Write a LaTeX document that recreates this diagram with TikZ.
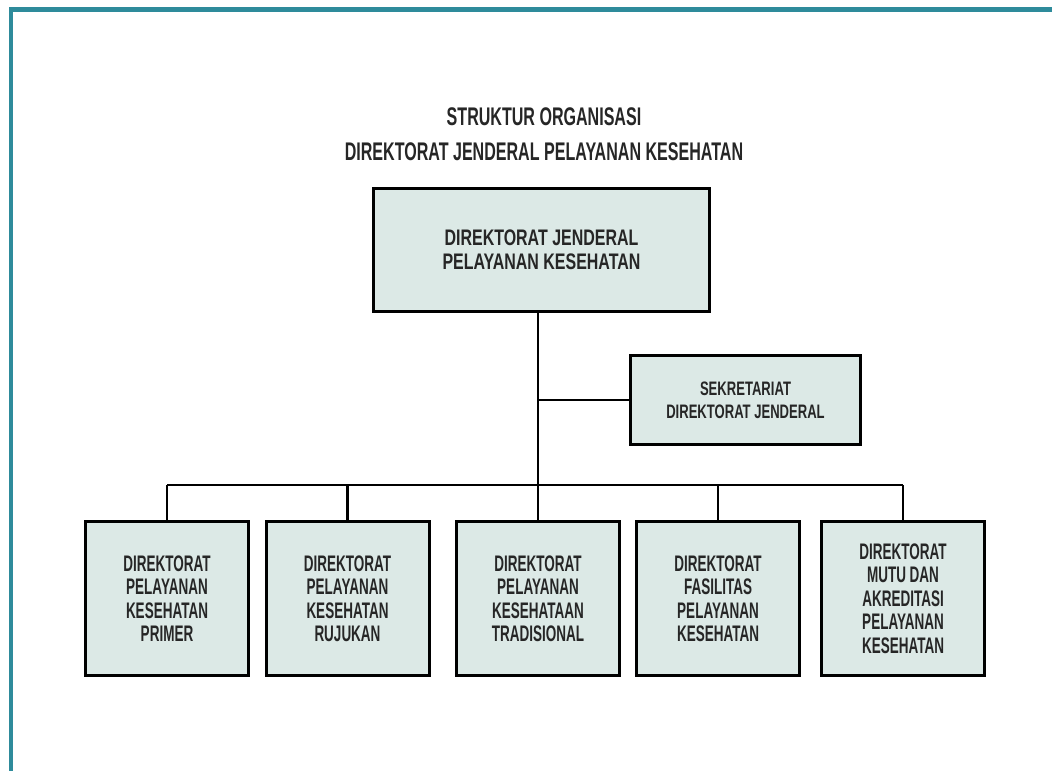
\documentclass[tikz,border=0pt]{standalone}
\usepackage{fontspec}
\usepackage{xcolor}
\usepackage{tikz}

\newfontfamily\titlefont{Liberation Sans}[FakeStretch=0.63]
\newfontfamily\headfont{Liberation Sans}[FakeStretch=0.71]
\newfontfamily\sekrefont{Liberation Sans}[FakeStretch=0.67]
\newfontfamily\unitfont{Liberation Sans}[FakeStretch=0.6]

\definecolor{frameteal}{HTML}{2E8B9B}
\definecolor{boxfill}{HTML}{DCE9E6}
\definecolor{inkgray}{HTML}{262626}

\begin{document}
\begin{tikzpicture}[x=1pt,y=-1pt,
  orgbox/.style={draw=black, line width=3pt, fill=boxfill, text=inkgray, align=center, inner sep=0pt},
  unitbox/.style={orgbox, minimum width=163pt, minimum height=154pt, font=\unitfont\bfseries\fontsize{22.5}{23.5}\selectfont},
  link/.style={line width=2.6pt, black}]
\useasboundingbox (0,0) rectangle (1052,771);

% Frame
\fill[white] (0,0) rectangle (1052,771);
\draw[frameteal, line width=5pt] (9,9.5) -- (1052,9.5);
\draw[frameteal, line width=3.5pt] (11,7) -- (11,771);

% Title
\node[text=inkgray, align=center, font=\titlefont\bfseries\fontsize{25.5}{35}\selectfont] (title) at (544,134)
  {STRUKTUR ORGANISASI\\DIREKTORAT JENDERAL PELAYANAN KESEHATAN};

% Top level
\node[orgbox, minimum width=336pt, minimum height=123pt, font=\headfont\bfseries\fontsize{22.5}{24}\selectfont] (dirjen) at (541.5,250)
  {DIREKTORAT JENDERAL\\PELAYANAN KESEHATAN};
\node[orgbox, minimum width=230pt, minimum height=89pt, font=\sekrefont\bfseries\fontsize{19.5}{23}\selectfont] (sekre) at (745.5,400)
  {SEKRETARIAT\\DIREKTORAT JENDERAL};

% Directorates
\node[unitbox] (primer) at (167,598.5) {DIREKTORAT\\PELAYANAN\\KESEHATAN\\PRIMER};
\node[unitbox] (rujukan) at (347.5,598.5) {DIREKTORAT\\PELAYANAN\\KESEHATAN\\RUJUKAN};
\node[unitbox] (tradisional) at (538,598.5) {DIREKTORAT\\PELAYANAN\\KESEHATAAN\\TRADISIONAL};
\node[unitbox] (fasilitas) at (718,598.5) {DIREKTORAT\\FASILITAS\\PELAYANAN\\KESEHATAN};
\node[unitbox] (mutu) at (903,598.5) {DIREKTORAT\\MUTU DAN\\AKREDITASI\\PELAYANAN\\KESEHATAN};

% Connectors
\coordinate (bus) at (538,485);
\draw[link] (dirjen.south -| bus) -- (tradisional.north);
\draw[link] (sekre.west) -- (sekre.west -| bus);
\draw[link] (primer.north |- bus) -- (mutu.north |- bus);
\foreach \u in {primer,rujukan,fasilitas,mutu}
  \draw[link] (\u.north) -- (\u.north |- bus);
\end{tikzpicture}
\end{document}
